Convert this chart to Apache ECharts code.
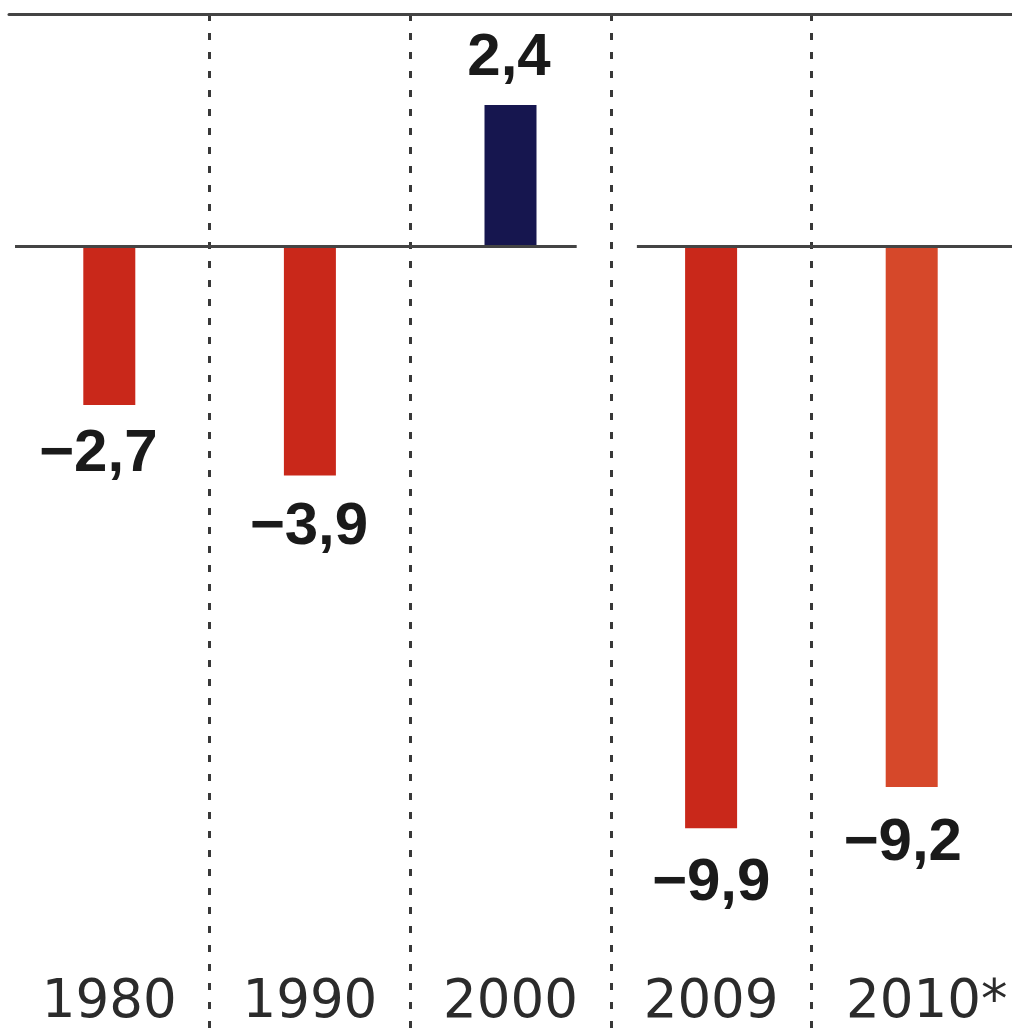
<!DOCTYPE html>
<html>
<head>
<meta charset="utf-8">
<script src="https://cdn.jsdelivr.net/npm/echarts@6/dist/echarts.min.js"></script>
<style>
  html, body { margin: 0; padding: 0; background: #fff; }
  #chart { width: 1012px; height: 1031px; }
</style>
</head>
<body>
<div id="chart"></div>
<script>
// data
var years = ['1980', '1990', '2000', '2009', '2010*']
var balance = [-2.7, -3.9, 2.4, -9.9, -9.2]

// look
var barColors = ['#c9281a', '#c9281a', '#16164f', '#c9281a', '#d6482a']
var labelDistance = [19.5, 22, 16.5, 25.5, 26]
var labelShiftX = [-11, -1, -1.5, 0, -9]
// zero line is broken between 2000 and 2009 (positions in band units)
var zeroBreak = [[0.03, 2.83], [3.13, 5]]

var chart = echarts.init(document.getElementById('chart'))

var option = {
  animation: false,
  backgroundColor: '#fff',
  grid: {
    top: 14,
    bottom: 0,
    left: 9,
    right: 0
  },
  xAxis: [
    {
      type: 'category',
      position: 'bottom',
      data: years.map(function(y) {
        // asterisk sticks out to the right
        return y.indexOf('*') > -1 ? { value: y, textStyle: { padding: [0, 0, 0, 30] } } : y
      }),
      axisLine: { show: false },
      axisTick: { show: false },
      axisLabel: {
        inside: true,
        interval: 0,
        hideOverlap: false,
        margin: 1,
        color: '#2b2b2b',
        fontFamily: 'DejaVu Sans',
        fontSize: 53
      },
      splitLine: {
        show: true,
        showMinLine: false,
        showMaxLine: false,
        lineStyle: {
          color: '#383838',
          width: 3,
          type: [7, 12]
        }
      }
    },
    {
      type: 'value',
      position: 'top',
      min: 0,
      max: 5,
      axisLine: {
        show: true,
        lineStyle: { color: '#444', width: 3 }
      },
      axisTick: { show: false },
      axisLabel: { show: false },
      splitLine: { show: false }
    }
  ],
  yAxis: {
    type: 'value',
    min: -13.35,
    max: 3.95,
    show: false
  },
  series: [
    {
      type: 'bar',
      barWidth: 52,
      data: balance.map(function(v, i) {
        return {
          value: v,
          itemStyle: { color: barColors[i] },
          label: {
            position: v < 0 ? 'bottom' : 'top',
            distance: labelDistance[i],
            offset: [labelShiftX[i], 0]
          }
        }
      }),
      label: {
        show: true,
        color: '#1a1a1a',
        fontFamily: 'Liberation Sans',
        fontWeight: 'bold',
        fontSize: 60,
        formatter: function(p) {
          return String(p.value).replace('.', ',').replace('-', '\u2212')
        }
      }
    },
    {
      type: 'line',
      xAxisIndex: 1,
      data: [],
      markLine: {
        silent: true,
        symbol: 'none',
        label: { show: false },
        lineStyle: { color: '#444', width: 3, type: 'solid' },
        data: zeroBreak.map(function(s) {
          return [{ coord: [s[0], 0] }, { coord: [s[1], 0] }]
        })
      }
    }
  ]
}

chart.setOption(option, true)
window.addEventListener('resize', () => {
  chart.resize()
})
</script>
</body>
</html>
